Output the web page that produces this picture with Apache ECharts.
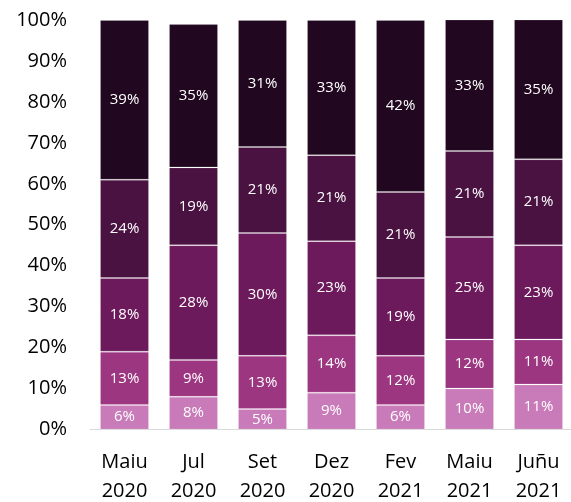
<!DOCTYPE html>
<html>
<head>
<meta charset="utf-8">
<script src="https://cdn.jsdelivr.net/npm/echarts@6/dist/echarts.min.js"></script>
<style>
  html, body { margin: 0; padding: 0; background: #ffffff; }
  #chart { width: 571px; height: 502px; }
</style>
</head>
<body>
<div id="chart"></div>
<script>
// Survey periods (two-line labels)
const categories = ['Maiu\n2020', 'Jul\n2020', 'Set\n2020', 'Dez\n2020', 'Fev\n2021', 'Maiu\n2021', 'Juñu\n2021'];

// Share of answers per level, bottom to top (%)
const level1 = [6, 8, 5, 9, 6, 10, 11];
const level2 = [13, 9, 13, 14, 12, 12, 11];
const level3 = [18, 28, 30, 23, 19, 25, 23];
const level4 = [24, 19, 21, 21, 21, 21, 21];
const level5 = [39, 35, 31, 33, 42, 33, 35];

const yTicks = [0, 10, 20, 30, 40, 50, 60, 70, 80, 90, 100];

const seriesData = [level1, level2, level3, level4, level5];
const colors = ['#c87ab9', '#9d3680', '#6c1a5c', '#4a1241', '#210820'];

const FONT = 'Open Sans';

const chart = echarts.init(document.getElementById('chart'), null, { renderer: 'canvas' });

chart.setOption({
  animation: false,
  backgroundColor: '#ffffff',
  grid: {
    left: 90, right: -2, top: 20, bottom: 72.5,
    containLabel: false,
    outerBoundsMode: 'none'
  },
  xAxis: {
    type: 'category',
    data: categories,
    axisLine: { show: true, lineStyle: { color: '#d9d9d9', width: 1 } },
    axisTick: { show: false },
    axisLabel: {
      color: '#000000',
      fontFamily: FONT,
      fontSize: 20,
      lineHeight: 29,
      margin: 18,
      interval: 0
    }
  },
  yAxis: {
    type: 'value',
    min: yTicks[0],
    max: yTicks[yTicks.length - 1],
    interval: yTicks[1] - yTicks[0],
    axisLine: { show: false },
    axisTick: { show: false },
    splitLine: { show: false },
    axisLabel: {
      color: '#000000',
      fontFamily: FONT,
      fontSize: 20,
      margin: 23,
      formatter: v => v + '%'
    }
  },
  series: seriesData.map((vals, i) => ({
    type: 'bar',
    stack: 'total',
    data: vals,
    barCategoryGap: '29%',
    itemStyle: {
      color: colors[i],
      borderColor: 'rgba(255,255,255,0.16)',
      borderWidth: 1
    },
    label: {
      show: true,
      position: 'inside',
      color: '#ffffff',
      fontFamily: FONT,
      fontSize: 15,
      formatter: p => p.value + '%'
    }
  }))
});
</script>
</body>
</html>
